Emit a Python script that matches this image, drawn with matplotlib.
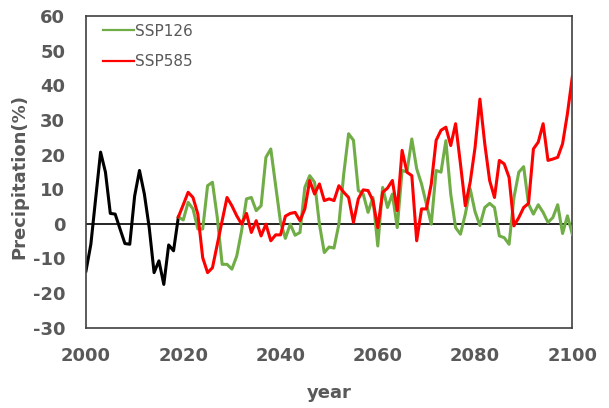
import matplotlib
matplotlib.use('Agg')
import matplotlib.pyplot as plt
import numpy as np

plt.rcParams['axes.unicode_minus'] = False

# observed (black) 2000-2019
obs_years = np.arange(2000, 2020)
obs = [-13.6, -5.9, 7.5, 20.7, 14.9, 3.0, 2.8, -1.5, -5.7, -5.9,
       8.0, 15.4, 8.6, -1.1, -14.1, -10.7, -17.5, -6.1, -7.8, 2.0]

# scenarios 2019-2100
scen_years = np.arange(2019, 2101)
ssp126 = [2.0, 1.1, 6.2, 4.3, -1.5, -1.5, 11.0, 12.0, 1.8, -11.7,
          -11.7, -13.1, -9.3, -2.0, 7.2, 7.6, 3.8, 5.2, 19.2, 21.6,
          11.0, 0.5, -4.2, -0.1, -3.3, -2.5, 10.5, 13.9, 12.0, -0.1,
          -8.3, -6.7, -7.0, -0.1, 14.4, 26.0, 24.1, 9.6, 8.6, 3.3,
          7.6, -6.4, 10.5, 4.7, 8.6, -1.1, 15.4, 15.0, 24.5, 15.9,
          11.5, 5.7, -0.1, 15.4, 14.9, 24.0, 8.6, -1.1, -3.0, 2.8,
          10.1, 3.5, -0.5, 4.7, 5.9, 4.7, -3.5, -4.0, -5.9, 7.6,
          14.9, 16.5, 5.7, 2.8, 5.5, 3.3, 0.4, 1.8, 5.5, -2.8,
          2.3, -3.0]
ssp585 = [2.0, 5.5, 9.1, 7.6, 2.8, -9.8, -14.1, -12.7, -5.9, 0.9,
          7.6, 5.2, 2.3, -0.1, 3.0, -2.5, 0.9, -3.5, -0.1, -4.9,
          -3.2, -3.2, 2.2, 3.0, 3.3, 0.9, 4.3, 12.5, 8.6, 11.5,
          6.7, 7.2, 6.7, 11.0, 9.1, 7.6, 0.4, 7.2, 9.8, 9.6,
          6.7, -1.1, 9.1, 10.3, 12.5, 3.8, 21.2, 14.9, 13.9, -4.9,
          4.3, 4.3, 11.5, 24.1, 27.0, 27.9, 22.6, 28.9, 17.3, 5.2,
          12.0, 22.0, 36.0, 23.1, 12.5, 7.6, 18.3, 17.3, 13.4, -0.6,
          1.8, 4.7, 5.9, 21.6, 23.6, 28.9, 18.3, 18.7, 19.2, 23.1,
          31.8, 42.4]

grey = '#595959'

fig = plt.figure(figsize=(6.09, 4.08), dpi=100)
ax = fig.add_axes([86/609, 1-327.7/408, (572.3-86)/609, (327.7-16)/408])

ax.axhline(0, color='black', lw=1.2, zorder=1)
ax.plot(obs_years, obs, color='black', lw=2.2, zorder=2)
ax.plot(scen_years, ssp126, color='#70AD47', lw=2.2, label='SSP126', zorder=3)
ax.plot(scen_years, ssp585, color='#FF0000', lw=2.2, label='SSP585', zorder=4)

ax.set_xlim(2000, 2100)
ax.set_ylim(-30, 60)
ax.set_xticks(np.arange(2000, 2101, 20))
ax.set_yticks(np.arange(-30, 61, 10))
ax.tick_params(axis='both', length=0, labelsize=13, labelcolor=grey)
ax.tick_params(axis='x', pad=14)
ax.tick_params(axis='y', pad=15)
for lab in ax.get_xticklabels() + ax.get_yticklabels():
    lab.set_fontweight('bold')

for s in ax.spines.values():
    s.set_color('#404040')
    s.set_linewidth(1.2)

ax.set_xlabel('year', fontsize=13, fontweight='bold', color=grey)
ax.xaxis.set_label_coords(0.5, -0.18)
ax.set_ylabel('Precipitation(%)', fontsize=13, fontweight='bold', color=grey)
ax.yaxis.set_label_coords(-0.118, 0.485)

leg = ax.legend(loc='upper left', bbox_to_anchor=(0.035, 0.975), frameon=False,
                borderaxespad=0, borderpad=0, handlelength=2.0, handletextpad=0.1,
                labelspacing=1.0, prop={'size': 11})
for t in leg.get_texts():
    t.set_color(grey)
for h in leg.get_lines():
    h.set_linewidth(1.6)

fig.savefig('out.png', dpi=100)
